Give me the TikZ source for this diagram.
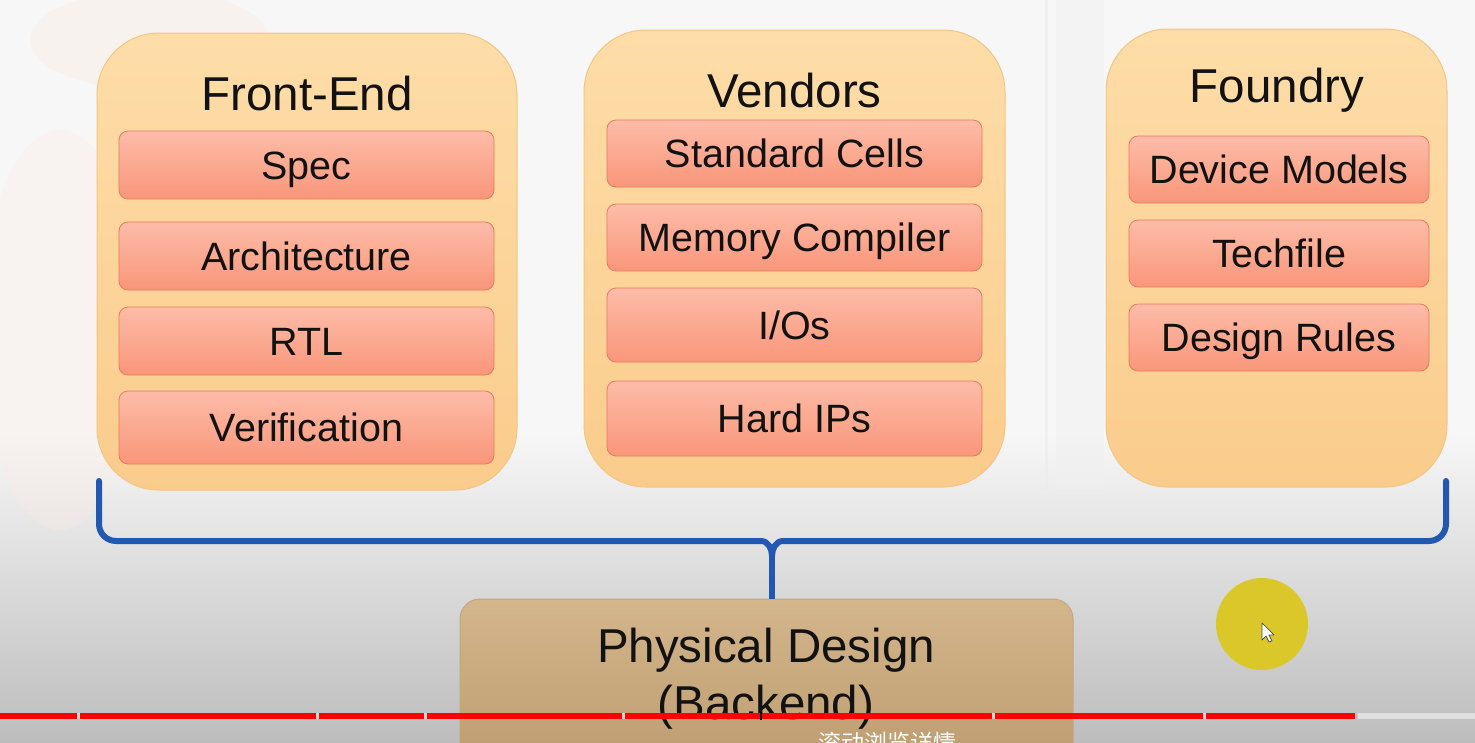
\documentclass[tikz,border=0pt]{standalone}
\usepackage{fontspec}
\setmainfont{Liberation Sans}
\newfontfamily\cjk{Noto Sans CJK SC}
\definecolor{outerTop}{RGB}{254,221,168}
\definecolor{outerBot}{RGB}{250,204,140}
\definecolor{outerLine}{RGB}{244,196,132}
\definecolor{innerTop}{RGB}{253,188,168}
\definecolor{innerBot}{RGB}{249,150,122}
\definecolor{innerLine}{RGB}{232,122,92}
\definecolor{pdTop}{RGB}{212,182,140}
\definecolor{pdBot}{RGB}{184,150,106}
\definecolor{pdLine}{RGB}{198,166,120}
\definecolor{braceBlue}{RGB}{34,88,178}
\definecolor{barRed}{RGB}{255,0,0}
\definecolor{hilite}{RGB}{218,200,42}
\definecolor{inkText}{RGB}{18,18,18}
\definecolor{wmark}{RGB}{251,236,230}
\begin{document}
\begin{tikzpicture}[x=1pt,y=-1pt,
  outerbox/.style={rounded corners=62pt, draw=outerLine, line width=1pt,
    top color=outerTop, bottom color=outerBot, inner sep=0pt},
  innerbox/.style={rounded corners=9pt, draw=innerLine, line width=0.8pt,
    top color=innerTop, bottom color=innerBot, inner sep=0pt,
    text=inkText, font=\fontsize{39.5}{44}\selectfont,
    text height=28pt, text depth=0pt},
  titletext/.style={anchor=base, text=inkText, font=\fontsize{47.5}{52}\selectfont, inner sep=0pt},
  pdbox/.style={rounded corners=20pt, draw=pdLine, line width=1pt,
    top color=pdTop, bottom color=pdBot, inner sep=0pt},
  brace/.style={draw=braceBlue, line width=6pt, line join=round, line cap=round},
]
\useasboundingbox (0,0) rectangle (1475,742);
% background
\fill[white!97!black] (0,0) rectangle (1475,742);
\shade[top color=white!97!black, bottom color=white!74!black] (0,430) rectangle (1475,742);
\fill[wmark, opacity=0.45] (150,40) ellipse (120 and 50);
\fill[wmark, opacity=0.35] (60,330) ellipse (80 and 200);
\fill[white!92!black, opacity=0.5] (1045,0) rectangle (1048,490);
\fill[white!94!black, opacity=0.5] (1056,0) rectangle (1104,490);

% outer boxes
\node[outerbox, minimum width=420, minimum height=457] (fe) at (307,261.5) {};
\node[outerbox, minimum width=421, minimum height=457] (ve) at (794.5,258.5) {};
\node[outerbox, minimum width=341, minimum height=458] (fo) at (1276.5,258) {};

% titles
\node[titletext] (feT) at (307,110) {Front-End};
\node[titletext] (veT) at (794.5,107) {Vendors};
\node[titletext] (foT) at (1277,102) {Foundry};

% Front-End items
\node[innerbox, minimum width=375, minimum height=68] (spec) at (306.5,165) {Spec};
\node[innerbox, minimum width=375, minimum height=68] (arch) at (306.5,256) {Architecture};
\node[innerbox, minimum width=375, minimum height=68] (rtl)  at (306.5,341) {RTL};
\node[innerbox, minimum width=375, minimum height=73] (ver)  at (306.5,427.5) {Verification};

% Vendors items
\node[innerbox, minimum width=375, minimum height=67] (std) at (794.5,153.5) {Standard Cells};
\node[innerbox, minimum width=375, minimum height=67] (mem) at (794.5,237.5) {Memory Compiler};
\node[innerbox, minimum width=375, minimum height=74] (ios) at (794.5,325) {I/Os};
\node[innerbox, minimum width=375, minimum height=75] (hip) at (794.5,418.5) {Hard IPs};

% Foundry items
\node[innerbox, minimum width=300, minimum height=67] (dev) at (1279,169.5) {Device Models};
\node[innerbox, minimum width=300, minimum height=67] (tech) at (1279,253.5) {Techfile};
\node[innerbox, minimum width=300, minimum height=67] (drc) at (1279,337.5) {Design Rules};

% Physical design box
\node[pdbox, minimum width=613, minimum height=200] (pd) at (766.5,699) {};
\node[anchor=base, text=inkText, font=\fontsize{47.5}{52}\selectfont, inner sep=0pt] (pdA) at (766,662) {Physical Design};
\node[anchor=base, text=inkText, font=\fontsize{47.5}{52}\selectfont, inner sep=0pt] (pdB) at (766,719) {(Backend)};

% brace
\coordinate (bl) at (99,481);
\coordinate (br) at (1446,481);
\coordinate (stem) at (772,556);
\draw[brace] (bl) -- (99,524) to[out=-90,in=180] (116,541) -- (761,541) to[out=0,in=90] (stem);
\draw[brace] (br) -- (1446,524) to[out=-90,in=0] (1429,541) -- (783,541) to[out=180,in=90] (stem);
\draw[brace, line cap=butt] (stem) -- (stem |- pd.north);

% cursor highlight
\node[circle, fill=hilite, minimum size=92, inner sep=0pt] (hl) at (1262,624) {};
\draw[fill=white, draw=black!70, line width=0.7pt, line join=round]
  (1262,623) -- (1262,640) -- (1266,636) -- (1269,642) -- (1272,641) -- (1269,635) -- (1274,635) -- cycle;

% video progress bar
\fill[barRed] (0,713) rectangle (1355,719);
\foreach \g in {77,316,424,622,992,1203}
  \fill[white!85!black] (\g,713) rectangle (\g+3,719);
\fill[white!88!black] (1358,713) rectangle (1475,719);
\fill[black] (760,712) rectangle (762,720);

% overlay text (clipped by page edge, as in the reference)
\node[anchor=base west, text=white, font=\cjk\fontsize{23}{26}\selectfont, inner sep=0pt] (tip) at (818,751) {滚动浏览详情};
\end{tikzpicture}
\end{document}
